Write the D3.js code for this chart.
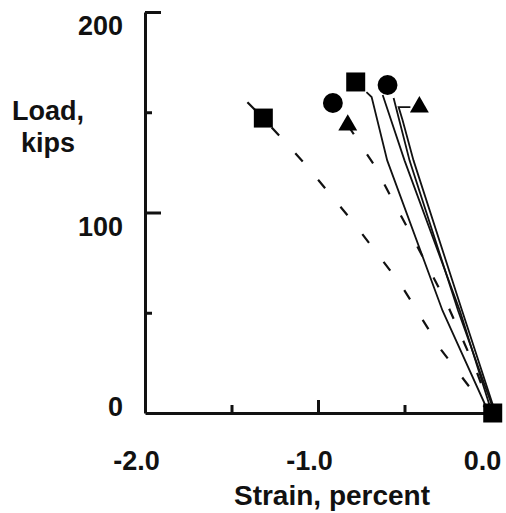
<!DOCTYPE html>
<html>
<head>
<meta charset="utf-8">
<script src="https://cdn.jsdelivr.net/npm/d3@7"></script>
<style>
  body { margin: 0; background: #fff; }
  text { font-family: Arial, "Liberation Sans", sans-serif; font-weight: bold; fill: #111; }
</style>
</head>
<body>
<script>
const WIDTH = 506
const HEIGHT = 513

// tick values and labels
const xTicks = [-2.0, -1.5, -1.0, -0.5, 0.0]
const xLabels = ["-2.0", "", "-1.0", "", "0.0"]
const yTicks = [0, 50, 100, 150, 200]
const yLabels = ["0", "", "100", "", "200"]

// solid curves (strain, load)
const solidSquare = [[-0.72, 160], [-0.69, 157.6], [-0.60, 126], [-0.28, 51], [-0.02, 1.5], [-0.01, 0]]
const solidCircle = [[-0.626, 158.6], [-0.50, 126], [-0.18, 51], [0.0, 1.5], [0.0, 0]]
const solidTriangle = [[-0.466, 152.6], [-0.534, 152.6], [-0.511, 146], [-0.448, 126], [-0.167, 51], [0.02, 1.5], [0.01, 0]]
const solidTriangle2 = [[-0.563, 157.1], [-0.471, 126], [-0.19, 51], [0.015, 1.5], [0.01, 0]]

// dashed curves
const dashedSquare = [[-1.408, 155], [-1.316, 147], [-1.08, 124.7], [-0.793, 94.8], [-0.523, 64.3], [-0.287, 31.4], [-0.023, 1.5], [0.0, 0]]
const dashedTriangle = [[-0.828, 143.6], [-0.672, 123.2], [-0.569, 106.2], [-0.448, 86.8], [-0.259, 55.4], [-0.086, 21.4], [-0.006, 2.5], [0.0, 0]]

// end markers
const squareMarks = [[-0.782, 165.1], [-1.316, 147.1], [0.01, 0]]
const circleMarks = [[-0.598, 163.6], [-0.914, 154.6]]
const triangleMarks = [[-0.414, 152.6], [-0.828, 143.6]]

const svg = d3.select("body").append("svg").attr("width", WIDTH).attr("height", HEIGHT)

const x = d3.scaleLinear().domain([-2, 0]).range([145, 491])
const y = d3.scaleLinear().domain([0, 200]).range([413, 12])

// x axis, ticks pointing up
const gx = svg.append("g")
    .attr("transform", `translate(0,${y(0)})`)
    .call(d3.axisBottom(x).tickValues(xTicks).tickSize(0).tickSizeOuter(0).tickFormat((d, i) => xLabels[i]))
gx.select(".domain").attr("stroke", "#111").attr("stroke-width", 3)
gx.selectAll(".tick line")
    .attr("stroke", "#111").attr("stroke-width", 3)
    .attr("y2", (d, i) => (i === 0 || i === 4) ? 0 : (xLabels[i] ? -13 : -8))
gx.selectAll(".tick text")
    .attr("font-size", 27).attr("y", 57).attr("dy", 0).attr("dx", -9)
    .attr("fill", "#111")

// y axis, ticks pointing right
const gy = svg.append("g")
    .attr("transform", `translate(${x(-2)},0)`)
    .call(d3.axisLeft(y).tickValues(yTicks).tickSize(0).tickSizeOuter(0).tickFormat((d, i) => yLabels[i]))
gy.select(".domain").attr("stroke", "#111").attr("stroke-width", 3)
gy.selectAll(".tick line")
    .attr("stroke", "#111").attr("stroke-width", 3)
    .attr("x2", (d, i) => i === 0 ? 0 : (yLabels[i] ? 16 : 7))
gy.selectAll(".tick text")
    .attr("font-size", 27).attr("x", -22).attr("dy", d => d === 0 ? "0.1em" : "0.85em")
    .attr("fill", "#111")

// axis titles
svg.append("text").attr("x", 48).attr("y", 120).attr("text-anchor", "middle").attr("font-size", 27).text("Load,")
svg.append("text").attr("x", 48).attr("y", 152).attr("text-anchor", "middle").attr("font-size", 27).text("kips")
svg.append("text").attr("x", 332).attr("y", 505).attr("text-anchor", "middle").attr("font-size", 28).text("Strain, percent")

const line = d3.line().x(d => x(d[0])).y(d => y(d[1]))

const curves = svg.append("g").attr("fill", "none").attr("stroke", "#111")
;[solidSquare, solidCircle, solidTriangle, solidTriangle2].forEach(c => {
  curves.append("path").attr("d", line(c)).attr("stroke-width", 1.8)
})
;[dashedSquare, dashedTriangle].forEach(c => {
  curves.append("path").attr("d", line(c)).attr("stroke-width", 2.2)
    .attr("stroke-dasharray", "11,24")
})

// markers
const marks = svg.append("g").attr("fill", "#000")
marks.selectAll(".sq").data(squareMarks).enter().append("path")
    .attr("d", d3.symbol(d3.symbolSquare, 361))
    .attr("transform", d => `translate(${x(d[0])},${y(d[1])})`)
marks.selectAll(".ci").data(circleMarks).enter().append("path")
    .attr("d", d3.symbol(d3.symbolCircle, 310))
    .attr("transform", d => `translate(${x(d[0])},${y(d[1])})`)
marks.selectAll(".tr").data(triangleMarks).enter().append("path")
    .attr("d", d3.symbol(d3.symbolTriangle, 155))
    .attr("transform", d => `translate(${x(d[0])},${y(d[1])})`)
</script>
</body>
</html>
